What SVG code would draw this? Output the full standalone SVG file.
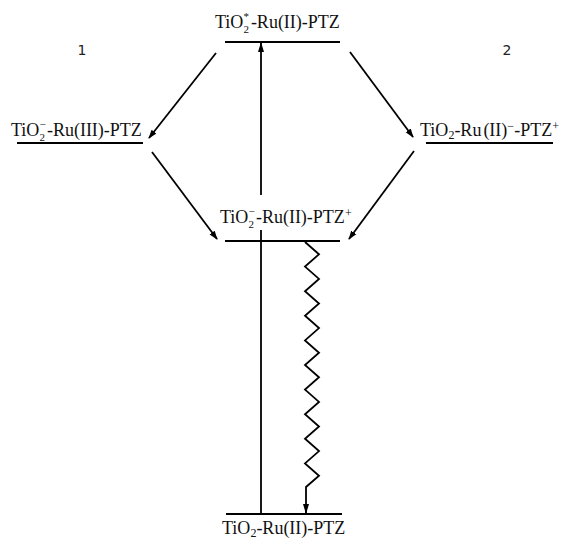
<svg xmlns="http://www.w3.org/2000/svg" width="577" height="542" viewBox="0 0 577 542">
<style>
.lvl{stroke:#000;stroke-width:2;fill:none}
.c{stroke:#000;stroke-width:1.8;fill:none}
text{font-family:"Liberation Serif","Times New Roman",serif;font-size:18px;fill:#111}
.n{font-family:"DejaVu Sans",sans-serif;font-size:14px;fill:#222}
.s{font-size:12px}
.t{font-size:11px}
</style>
<defs>
<marker id="ah" viewBox="0 0 10 10" refX="9" refY="5" markerWidth="9" markerHeight="9" markerUnits="userSpaceOnUse" orient="auto">
<path d="M0,1.5 L10,5 L0,8.5 Z" fill="#000"/>
</marker>
<marker id="ah2" viewBox="0 0 10 10" refX="9" refY="5" markerWidth="10" markerHeight="10" markerUnits="userSpaceOnUse" orient="auto">
<path d="M0,2 L10,5 L0,8 Z" fill="#000"/>
</marker>
</defs>
<g id="top">
<line class="lvl" x1="225" y1="42" x2="340" y2="42"/>
<text x="215" y="28">TiO<tspan class="t" dy="-8">*</tspan><tspan class="t" dx="-5.5" dy="13">2</tspan><tspan dx="2" dy="-5">-Ru(II)-PTZ</tspan></text>
</g>
<g id="left">
<line class="lvl" x1="17" y1="143" x2="143" y2="143"/>
<text x="11" y="136">TiO<tspan class="t" dy="-8">−</tspan><tspan class="t" dx="-6.2" dy="13">2</tspan><tspan dx="2" dy="-5">-Ru(III)-PTZ</tspan></text>
</g>
<g id="right">
<line class="lvl" x1="426" y1="143" x2="553" y2="143"/>
<text x="420" y="136">TiO<tspan class="s" dy="3">2</tspan><tspan dy="-3">-Ru</tspan><tspan dx="2">(II)</tspan><tspan class="s" dy="-6">−</tspan><tspan dy="6">-PTZ</tspan><tspan class="s" dy="-6">+</tspan></text>
</g>
<g id="mid">
<line class="lvl" x1="225" y1="241" x2="340" y2="241"/>
<text x="220" y="223">TiO<tspan class="t" dy="-8">−</tspan><tspan class="t" dx="-6.2" dy="13">2</tspan><tspan dx="2" dy="-5">-Ru(II)-PTZ</tspan><tspan class="s" dy="-6">+</tspan></text>
</g>
<g id="bottom">
<line class="lvl" x1="226" y1="514" x2="342" y2="514"/>
<text x="222" y="534">TiO<tspan class="s" dy="3">2</tspan><tspan dy="-3">-Ru(II)-PTZ</tspan></text>
</g>
<g id="label1"><text class="n" x="82" y="55" text-anchor="middle">1</text></g>
<g id="label2"><text class="n" x="507" y="55" text-anchor="middle">2</text></g>
<g id="connectors">
<line class="c" x1="261" y1="514" x2="261" y2="230"/>
<line class="c" x1="261" y1="195" x2="261" y2="43" marker-end="url(#ah2)"/>
<line class="c" x1="216" y1="53" x2="149" y2="138" marker-end="url(#ah)"/>
<line class="c" x1="152" y1="152" x2="217" y2="239" marker-end="url(#ah)"/>
<line class="c" x1="350" y1="52" x2="413" y2="137" marker-end="url(#ah)"/>
<line class="c" x1="414" y1="151" x2="349" y2="239" marker-end="url(#ah)"/>
<path class="c" d="M305,242 L319,254.3 L305,266.6 L319,278.9 L305,291.2 L319,303.5 L305,315.8 L319,328.1 L305,340.4 L319,352.7 L305,365 L319,377.3 L305,389.6 L319,401.9 L305,414.2 L319,426.5 L305,438.8 L319,451.1 L305,463.4 L319,475.7 L306,487 L306,513" marker-end="url(#ah2)"/>
</g>
</svg>
